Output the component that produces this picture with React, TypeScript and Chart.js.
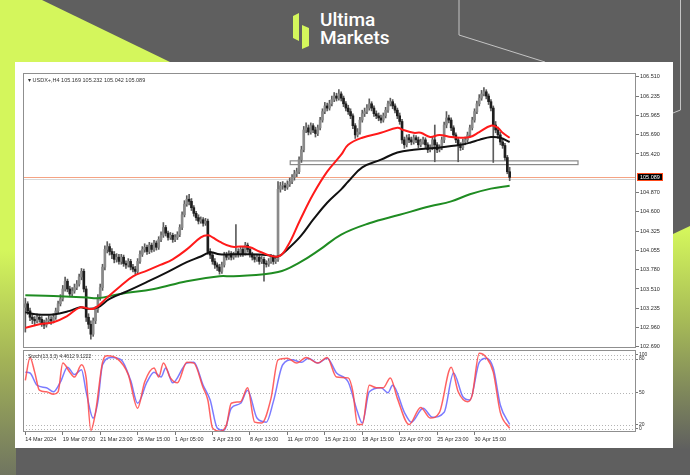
import React, { useEffect, useRef } from "react";
import { Chart, registerables } from "chart.js";
Chart.register(...registerables);

// ---------- DATA ----------
const firstOpen = 103.25;
const closes = [
  103.30, 103.20, 103.11, 103.08, 103.06, 103.11, 103.08, 103.03, 103.00, 103.06,
  103.08, 103.06, 103.11, 103.20, 103.30, 103.37, 103.51, 103.62, 103.51, 103.44,
  103.48, 103.53, 103.58, 103.68, 103.76, 103.51, 103.11, 103.01, 102.87, 103.06,
  103.22, 103.39, 103.53, 103.82, 104.07, 104.11, 104.04, 104.00, 103.93, 103.96,
  103.90, 103.96, 103.87, 103.85, 103.90, 103.82, 103.79, 103.76, 103.90, 104.00,
  104.07, 104.10, 104.04, 104.13, 104.07, 104.16, 104.10, 104.21, 104.27, 104.38,
  104.30, 104.24, 104.27, 104.21, 104.24, 104.28, 104.38, 104.56, 104.71, 104.78,
  104.75, 104.66, 104.58, 104.52, 104.47, 104.49, 104.44, 104.47, 104.04, 103.99,
  103.90, 103.85, 103.82, 103.76, 103.85, 103.99, 103.96, 104.01, 103.96, 103.99,
  104.04, 104.00, 104.07, 104.01, 104.13, 104.07, 104.00, 103.96, 103.93, 103.96,
  103.90, 103.93, 103.87, 103.86, 103.90, 103.96, 103.90, 103.93, 104.92, 104.97,
  104.97, 104.95, 104.99, 105.03, 105.09, 105.14, 105.17, 105.34, 105.48, 105.76,
  105.79, 105.73, 105.82, 105.76, 105.71, 105.79, 105.90, 106.02, 106.10, 106.07,
  106.13, 106.19, 106.24, 106.21, 106.27, 106.21, 106.13, 106.07, 106.02, 105.96,
  105.82, 105.69, 105.73, 105.90, 105.99, 106.02, 106.07, 106.13, 106.07, 105.99,
  105.96, 105.93, 105.90, 105.96, 106.04, 106.13, 106.16, 106.10, 106.04, 105.96,
  105.88, 105.62, 105.55, 105.65, 105.62, 105.59, 105.65, 105.62, 105.55, 105.59,
  105.62, 105.55, 105.48, 105.51, 105.62, 105.55, 105.48, 105.51, 105.62, 105.83,
  105.93, 105.90, 105.79, 105.69, 105.62, 105.54, 105.51, 105.59, 105.62, 105.69,
  105.79, 105.90, 106.02, 106.13, 106.21, 106.27, 106.30, 106.24, 106.16, 106.07,
  105.83, 105.76, 105.69, 105.59, 105.54, 105.37, 105.169, 105.089,
];
const barHighs = [
  103.38, 103.33, 103.24, 103.15, 103.12, 103.16, 103.14, 103.12, 103.07, 103.10,
  103.13, 103.12, 103.16, 103.24, 103.34, 103.43, 103.56, 103.68, 103.65, 103.55,
  103.53, 103.58, 103.63, 103.72, 103.80, 103.79, 103.55, 103.16, 103.06, 103.10,
  103.26, 103.43, 103.58, 103.86, 104.12, 104.18, 104.15, 104.08, 104.04, 104.01,
  104.00, 104.00, 103.99, 103.91, 103.94, 103.93, 103.86, 103.83, 103.94, 104.05,
  104.11, 104.15, 104.13, 104.17, 104.16, 104.20, 104.19, 104.25, 104.32, 104.45,
  104.41, 104.33, 104.31, 104.30, 104.28, 104.32, 104.42, 104.60, 104.76, 104.83,
  104.85, 104.79, 104.69, 104.61, 104.56, 104.53, 104.52, 104.51, 104.50, 104.08,
  104.02, 103.94, 103.88, 103.86, 103.89, 104.03, 104.03, 104.05, 104.04, 104.03,
  104.42, 104.08, 104.11, 104.10, 104.17, 104.16, 104.10, 104.03, 103.99, 104.00,
  103.99, 103.97, 103.96, 103.91, 103.94, 104.00, 103.99, 103.97, 105.03, 105.02,
  105.03, 105.01, 105.04, 105.08, 105.13, 105.19, 105.22, 105.38, 105.53, 105.81,
  105.86, 105.83, 105.86, 105.85, 105.80, 105.83, 105.94, 106.06, 106.15, 106.14,
  106.18, 106.24, 106.29, 106.28, 106.33, 106.30, 106.24, 106.16, 106.11, 106.06,
  105.99, 105.85, 105.78, 105.94, 106.04, 106.07, 106.12, 106.20, 106.16, 106.10,
  106.03, 106.00, 105.97, 106.00, 106.08, 106.17, 106.21, 106.19, 106.13, 106.07,
  106.00, 105.91, 105.66, 105.69, 105.70, 105.66, 105.69, 105.68, 105.66, 105.63,
  105.66, 105.65, 105.58, 105.55, 105.66, 105.83, 105.58, 105.55, 105.66, 105.87,
  106.02, 105.97, 105.93, 105.82, 105.72, 105.65, 105.58, 105.63, 105.66, 105.73,
  105.83, 105.94, 106.06, 106.17, 106.26, 106.32, 106.36, 106.33, 106.27, 106.19,
  106.10, 105.88, 105.80, 105.73, 105.64, 105.57, 105.40, 105.232,
];
const barLows = [
  102.90, 103.15, 103.06, 103.02, 102.99, 103.03, 103.04, 102.98, 102.95, 102.97,
  103.02, 103.01, 103.03, 103.08, 103.17, 103.27, 103.34, 103.48, 103.47, 103.40,
  103.41, 103.45, 103.50, 103.55, 103.64, 103.47, 103.05, 102.95, 102.80, 102.84,
  103.02, 103.18, 103.35, 103.49, 103.78, 104.02, 103.99, 103.94, 103.88, 103.89,
  103.86, 103.86, 103.83, 103.80, 103.82, 103.78, 103.75, 103.72, 103.73, 103.87,
  103.97, 104.03, 104.00, 104.01, 104.03, 104.04, 104.06, 104.07, 104.18, 104.24,
  104.26, 104.20, 104.21, 104.17, 104.18, 104.21, 104.25, 104.35, 104.53, 104.68,
  104.70, 104.62, 104.54, 104.48, 104.43, 104.44, 104.40, 104.41, 104.00, 103.94,
  103.86, 103.80, 103.77, 103.72, 103.73, 103.82, 103.92, 103.93, 103.92, 103.93,
  103.96, 103.96, 103.97, 103.97, 103.99, 104.03, 103.96, 103.92, 103.89, 103.90,
  103.86, 103.87, 103.62, 103.82, 103.83, 103.87, 103.86, 103.87, 103.90, 104.88,
  104.92, 104.90, 104.92, 104.96, 105.00, 105.05, 105.10, 105.14, 105.30, 105.45,
  105.72, 105.69, 105.70, 105.72, 105.66, 105.68, 105.76, 105.87, 105.99, 106.03,
  106.04, 106.10, 106.16, 106.17, 106.18, 106.17, 106.09, 106.03, 105.98, 105.92,
  105.78, 105.64, 105.66, 105.70, 105.87, 105.95, 105.99, 106.04, 106.03, 105.95,
  105.92, 105.89, 105.86, 105.87, 105.93, 106.01, 106.10, 106.06, 106.00, 105.92,
  105.84, 105.57, 105.50, 105.52, 105.58, 105.55, 105.56, 105.58, 105.51, 105.52,
  105.56, 105.51, 105.44, 105.45, 105.48, 105.31, 105.44, 105.45, 105.48, 105.58,
  105.79, 105.86, 105.75, 105.65, 105.58, 105.31, 105.47, 105.48, 105.55, 105.59,
  105.66, 105.76, 105.87, 105.99, 106.10, 106.18, 106.24, 106.20, 106.12, 106.03,
  105.30, 105.72, 105.64, 105.55, 105.50, 105.33, 105.14, 105.042,
];

// moving averages: [bar index, price]
const maFast: [number, number][] = [
  [0, 102.96], [6, 103.01], [12, 103.04], [18, 103.13], [23.5, 103.25], [29, 103.23],
  [35, 103.39], [40.6, 103.55], [46, 103.69], [52, 103.77], [57.7, 103.85], [63, 103.93],
  [69, 104.07], [75, 104.24], [78, 104.27], [80, 104.24], [83, 104.18], [88, 104.11],
  [92, 104.11], [96, 104.1], [100, 104.04], [108, 103.97], [112, 104.11], [117.5, 104.49],
  [123, 104.85], [129, 105.17], [135, 105.41], [138, 105.55], [144, 105.65], [152, 105.72],
  [159, 105.79], [161.5, 105.76], [166, 105.72], [169, 105.72], [173, 105.66], [177, 105.69],
  [182, 105.66], [186, 105.65], [190, 105.66], [194, 105.73], [199, 105.82], [202, 105.79],
  [204, 105.72], [207, 105.65],
];
const maMid: [number, number][] = [
  [0, 103.18], [5, 103.15], [12, 103.15], [19, 103.2], [23.5, 103.25], [26.5, 103.23],
  [31, 103.25], [36, 103.37], [43.6, 103.48], [52, 103.61], [60.7, 103.75], [69, 103.89],
  [75, 103.97], [79, 104.03], [83, 104.0], [89, 104.0], [96, 104.0], [103, 103.99],
  [108, 103.97], [112, 104.07], [117.5, 104.25], [123, 104.49], [129, 104.73], [135, 104.92],
  [138, 105.03], [144, 105.23], [152, 105.34], [159, 105.44], [166, 105.48], [173, 105.5],
  [177, 105.51], [186, 105.55], [190, 105.58], [194, 105.62], [199, 105.66], [203, 105.65],
  [207, 105.59],
];
const maSlow: [number, number][] = [
  [0, 103.42], [12, 103.41], [26.5, 103.39], [31, 103.38], [40.6, 103.44], [55, 103.51],
  [69, 103.62], [83, 103.69], [89, 103.69], [108, 103.75], [117.5, 103.89], [126, 104.07],
  [135, 104.28], [147, 104.44], [160, 104.56], [173, 104.68], [182, 104.75], [190, 104.85],
  [199, 104.93], [207, 104.97],
];

// stochastic (13,3,3): [bar index, value]
const stochMain: [number, number][] = [
  [0, 63], [2, 91], [4, 73], [6, 51], [9, 49], [12, 46], [14, 49], [16, 84], [19, 73], [21, 67],
  [24, 82], [26, 66], [28, 2], [30, 24], [33, 85], [35, 93], [39, 90], [44, 70], [48, 29], [51, 61],
  [55, 78], [57, 67], [59, 84], [62, 66], [65, 60], [69, 85], [72, 84], [76, 54], [78, 39], [80, 5],
  [83, 1], [86, 9], [88, 35], [92, 37], [95, 54], [98, 12], [101, 11], [105, 41], [108, 88], [112, 90],
  [116, 84], [120, 91], [125, 84], [129, 91], [133, 67], [138, 66], [140, 49], [142, 9], [144, 9],
  [147, 57], [150, 54], [153, 54], [156, 66], [159, 41], [164, 9], [169, 30], [173, 17], [177, 24],
  [182, 79], [185, 49], [189, 37], [191, 45], [194, 96], [197, 91], [200, 73], [203, 24], [207, 4.4612],
];
const stochSignal: [number, number][] = [
  [0, 73], [2, 72], [5, 57], [9, 54], [12, 49], [15, 61], [18, 79], [21, 70], [24, 76], [26, 49],
  [29, 17], [31, 37], [33, 82], [37, 91], [41, 88], [45, 63], [48, 35], [52, 61], [55, 73], [58, 67],
  [60, 78], [63, 60], [69, 84], [72, 85], [76, 57], [79, 39], [82, 5], [85, 2], [88, 29], [92, 35],
  [95, 51], [99, 17], [103, 12], [106, 37], [110, 82], [114, 88], [118, 85], [121, 90], [125, 84],
  [129, 90], [133, 72], [138, 61], [142, 24], [144, 11], [147, 49], [152, 54], [155, 48], [157, 57],
  [162, 24], [165, 12], [170, 29], [174, 18], [179, 24], [183, 72], [187, 43], [190, 39], [194, 85],
  [197, 90], [200, 78], [203, 33], [207, 9.1222],
];
const stochLevels = [94, 89, 48, 9, 4];
const stochLabels = ["100", "80", "50", "20", "0"];

const priceTicks = [
  106.51, 106.235, 105.965, 105.69, 105.42, 104.87, 104.6, 104.325, 104.055,
  103.78, 103.51, 103.235, 102.96, 102.69,
];
const timeTickIdx = [0, 16, 32, 48, 64, 80, 96, 112, 128, 144, 160, 176, 192];
const timeTickLabels = [
  "14 Mar 2024", "19 Mar 07:00", "21 Mar 23:00", "26 Mar 15:00", "1 Apr 05:00",
  "3 Apr 23:00", "8 Apr 13:00", "11 Apr 07:00", "15 Apr 21:00", "18 Apr 15:00",
  "23 Apr 07:00", "25 Apr 23:00", "30 Apr 15:00",
];
const lastPrice = 105.089;
const askPrice = 105.062;
const zone = { from: 113, to: 236, low: 105.277, high: 105.33 };

const X_MIN = -1;
const X_MAX = 261;
const MT_FONT = "Liberation Sans, Arial, sans-serif";
const LIME = "#d4f65c";

const framePlugin = {
  id: "frame",
  afterDraw(chart: any) {
    const { ctx, chartArea: a } = chart;
    ctx.save();
    ctx.strokeStyle = "#8f8f8f";
    ctx.lineWidth = 1;
    ctx.strokeRect(a.left + 0.5, a.top + 0.5, a.right - a.left - 1, a.bottom - a.top - 1);
    ctx.restore();
  },
};

const priceAnnotations = {
  id: "priceAnn",
  beforeDatasetsDraw(chart: any) {
    const { ctx, chartArea: a, scales } = chart;
    const x = scales.x, y = scales.y;
    ctx.save();
    // support zone rectangle
    const x1 = x.getPixelForValue(zone.from);
    const x2 = Math.min(x.getPixelForValue(zone.to), a.right);
    const y1 = y.getPixelForValue(zone.high);
    const y2 = y.getPixelForValue(zone.low);
    ctx.fillStyle = "rgba(255,255,255,0.6)";
    ctx.fillRect(x1, y1, x2 - x1, y2 - y1);
    ctx.strokeStyle = "#8a8a8a";
    ctx.lineWidth = 1.2;
    ctx.strokeRect(x1 + 0.5, y1 + 0.5, x2 - x1, y2 - y1);
    // ask line
    const ya = Math.round(y.getPixelForValue(askPrice)) + 0.5;
    ctx.strokeStyle = "#d8d8d8";
    ctx.lineWidth = 1;
    ctx.beginPath();
    ctx.moveTo(a.left, ya);
    ctx.lineTo(a.right, ya);
    ctx.stroke();
    // last price line
    const yl = Math.round(y.getPixelForValue(lastPrice)) + 0.5;
    ctx.strokeStyle = "#f5a383";
    ctx.beginPath();
    ctx.moveTo(a.left, yl);
    ctx.lineTo(a.right, yl);
    ctx.stroke();
    ctx.restore();
  },
  afterDraw(chart: any) {
    const { ctx, chartArea: a, scales } = chart;
    const yl = Math.round(scales.y.getPixelForValue(lastPrice));
    ctx.save();
    ctx.fillStyle = "#000";
    ctx.fillRect(a.right + 1, yl - 4, 26, 8);
    ctx.strokeStyle = "#ff4a1a";
    ctx.lineWidth = 1;
    ctx.strokeRect(a.right + 1.5, yl - 3.5, 25, 7);
    ctx.fillStyle = "#fff";
    ctx.font = `5.5px ${MT_FONT}`;
    ctx.textBaseline = "middle";
    ctx.fillText(lastPrice.toFixed(3), a.right + 4, yl + 0.5);
    ctx.restore();
  },
};

const stochLevelPlugin = {
  id: "stochLevels",
  beforeDatasetsDraw(chart: any) {
    const { ctx, chartArea: a, scales } = chart;
    ctx.save();
    ctx.strokeStyle = "#b4b4b4";
    ctx.lineWidth = 1;
    ctx.setLineDash([1, 2]);
    stochLevels.forEach((v) => {
      const yy = Math.round(scales.y.getPixelForValue(v)) + 0.5;
      ctx.beginPath();
      ctx.moveTo(a.left, yy);
      ctx.lineTo(a.right, yy);
      ctx.stroke();
    });
    ctx.restore();
  },
};

const toXY = (pts: [number, number][]) => pts.map(([x, y]) => ({ x, y }));

export default function App() {
  const mainRef = useRef<HTMLCanvasElement | null>(null);
  const stochRef = useRef<HTMLCanvasElement | null>(null);

  useEffect(() => {
    document.body.style.margin = "0";
    Chart.defaults.font.family = MT_FONT;
    const opens = closes.map((c, i) => (i === 0 ? firstOpen : closes[i - 1]));
    const wickData = closes.map((_, i) => ({ x: i, y: [barLows[i], barHighs[i]] }));
    const bodyData = closes.map((c, i) => ({ x: i, y: [opens[i], c] }));
    const bodyColors = closes.map((c, i) => (c >= opens[i] ? "#8a8a8a" : "#1e1e1e"));

    const main = new Chart(mainRef.current as HTMLCanvasElement, {
      type: "bar",
      data: {
        datasets: [
          { type: "line", data: toXY(maFast), borderColor: "#ff1a1a", borderWidth: 2, pointRadius: 0, tension: 0.4, order: 0 } as any,
          { type: "line", data: toXY(maMid), borderColor: "#111111", borderWidth: 2, pointRadius: 0, tension: 0.4, order: 0 } as any,
          { type: "line", data: toXY(maSlow), borderColor: "#1f8c22", borderWidth: 2, pointRadius: 0, tension: 0.4, order: 0 } as any,
          { type: "bar", data: bodyData, backgroundColor: bodyColors, barThickness: 2, grouped: false, order: 1 } as any,
          { type: "bar", data: wickData, backgroundColor: "#5c5c5c", barThickness: 1, grouped: false, order: 2 } as any,
        ],
      },
      options: {
        animation: false,
        responsive: false,
        devicePixelRatio: 1,
        layout: { padding: 0 },
        plugins: { legend: { display: false }, tooltip: { enabled: false } },
        scales: {
          x: { type: "linear", min: X_MIN, max: X_MAX, offset: false, display: false },
          y: {
            position: "right",
            min: 102.675,
            max: 106.566,
            beginAtZero: false,
            afterBuildTicks: (s: any) => { s.ticks = priceTicks.map((v) => ({ value: v })); },
            afterFit: (s: any) => { s.width = 40; s.paddingTop = 0; s.paddingBottom = 0; },
            ticks: { font: { size: 5.5, family: MT_FONT }, color: "#2a2a2a", padding: 1, callback: (v: any) => Number(v).toFixed(3) },
            grid: { drawOnChartArea: false, drawTicks: true, tickLength: 3, color: "#777" },
            border: { display: false },
          },
        },
      } as any,
      plugins: [priceAnnotations, framePlugin],
    });

    const stoch = new Chart(stochRef.current as HTMLCanvasElement, {
      type: "line",
      data: {
        datasets: [
          { data: toXY(stochMain), borderColor: "rgba(255,70,70,0.85)", borderWidth: 1.5, pointRadius: 0, cubicInterpolationMode: "monotone" } as any,
          { data: toXY(stochSignal), borderColor: "rgba(90,90,255,0.8)", borderWidth: 1.5, pointRadius: 0, cubicInterpolationMode: "monotone" } as any,
        ],
      },
      options: {
        animation: false,
        responsive: false,
        devicePixelRatio: 1,
        layout: { padding: 0 },
        plugins: { legend: { display: false }, tooltip: { enabled: false } },
        scales: {
          x: {
            type: "linear", min: X_MIN, max: X_MAX, offset: false,
            afterBuildTicks: (s: any) => { s.ticks = timeTickIdx.map((v) => ({ value: v })); },
            afterFit: (s: any) => { s.height = 14; s.paddingLeft = 0; s.paddingRight = 0; },
            ticks: {
              align: "start", maxRotation: 0, autoSkip: false, padding: 1,
              font: { size: 5.5, family: MT_FONT }, color: "#2a2a2a",
              callback: (v: any) => { const k = timeTickIdx.indexOf(Number(v)); return k >= 0 ? timeTickLabels[k] : ""; },
            },
            grid: { drawOnChartArea: false, drawTicks: true, tickLength: 3, color: "#777" },
            border: { display: false },
          },
          y: {
            position: "right", min: 0, max: 100,
            afterBuildTicks: (s: any) => { s.ticks = stochLevels.map((v) => ({ value: v })); },
            afterFit: (s: any) => { s.width = 40; s.paddingTop = 0; s.paddingBottom = 0; },
            ticks: {
              font: { size: 5, family: MT_FONT }, color: "#2a2a2a", padding: 1,
              callback: (v: any) => { const k = stochLevels.indexOf(Number(v)); return k >= 0 ? stochLabels[k] : ""; },
            },
            grid: { drawOnChartArea: false, drawTicks: true, tickLength: 2, color: "#777" },
            border: { display: false },
          },
        },
      } as any,
      plugins: [stochLevelPlugin, framePlugin],
    });

    return () => { main.destroy(); stoch.destroy(); };
  }, []);

  const mtText: React.CSSProperties = { position: "absolute", fontFamily: MT_FONT, fontSize: 5.5, color: "#333", whiteSpace: "nowrap", lineHeight: "7px" };

  return (
    <div style={{ position: "fixed", left: 0, top: 0, width: 690, height: 475, overflow: "hidden", background: "#5f5f5f" }}>
      <div style={{ position: "absolute", left: 0, top: 0, width: 690, height: 475, background: LIME, clipPath: "polygon(0 0, 42px 0, 170px 62px, 0 62px)" }} />
      <div style={{ position: "absolute", left: 0, top: 0, width: 16, height: 475, background: `linear-gradient(180deg, ${LIME} 0px, ${LIME} 250px, #a3b357 360px, #707560 475px)` }} />
      <div style={{ position: "absolute", left: 0, top: 0, width: 690, height: 475, background: `linear-gradient(180deg, ${LIME} 230px, #a7bb57 320px, #5f5f5f 450px)`, clipPath: "polygon(673px 234px, 690px 226px, 690px 475px, 673px 475px)" }} />
      <svg width={690} height={475} style={{ position: "absolute", left: 0, top: 0 }}>
        <polyline points="459,0 459,35 545,62" fill="none" stroke="#c4c4c4" strokeWidth={1} />
        <polyline points="680.5,0 680.5,110 673,113" fill="none" stroke="#c4c4c4" strokeWidth={1} />
        <polygon points="293,16 299,13 299,41 293,38" fill={LIME} />
        <polygon points="302,25 309,28 309,46 302,49" fill={LIME} />
      </svg>
      <div style={{ position: "absolute", left: 320, top: 11, fontFamily: "Roboto, sans-serif", fontSize: 19, lineHeight: "18px", color: "#fff", fontWeight: 500 }}>
        Ultima<br />Markets
      </div>
      <div style={{ position: "absolute", left: 15, top: 62, width: 658, height: 386, background: "#fff" }} />
      <canvas ref={mainRef} width={653} height={275} style={{ position: "absolute", left: 23, top: 73 }} />
      <canvas ref={stochRef} width={653} height={96} style={{ position: "absolute", left: 23, top: 350 }} />
      <div style={{ ...mtText, left: 28, top: 77 }}>▾ USDX+,H4 105.169 105.232 105.042 105.089</div>
      <div style={{ ...mtText, left: 28, top: 353, fontSize: 5 }}>Stoch(13,3,3) 4.4612 9.1222</div>
    </div>
  );
}
